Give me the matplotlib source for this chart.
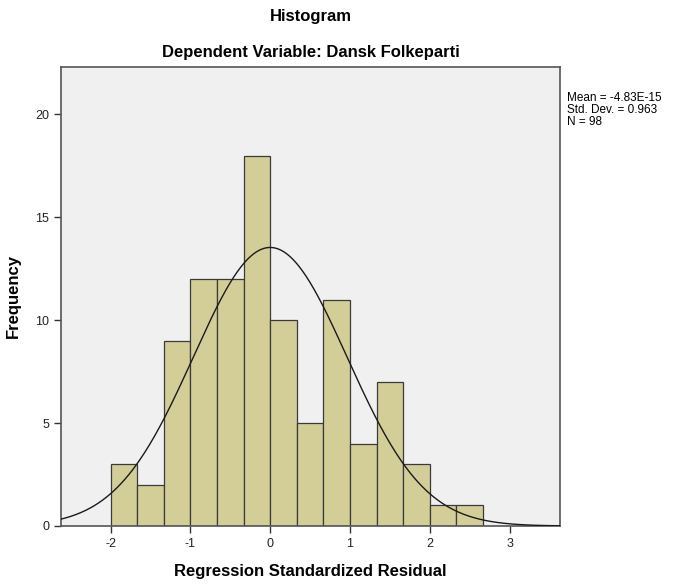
import numpy as np
import matplotlib.pyplot as plt

plt.rcParams['font.family'] = ['Liberation Sans', 'DejaVu Sans']

# histogram data
bin_edges = [-2.0, -1.6667, -1.3333, -1.0, -0.6667, -0.3333, 0.0, 0.3333,
             0.6667, 1.0, 1.3333, 1.6667, 2.0, 2.3333, 2.6667]
counts = [3, 2, 9, 12, 12, 18, 10, 5, 11, 4, 7, 3, 1, 1]
mean = -4.83e-15
sd = 0.963
n = 98
xticks = [-2, -1, 0, 1, 2, 3]
yticks = [0, 5, 10, 15, 20]

fig = plt.figure(figsize=(6.74, 5.87), dpi=100)
ax = fig.add_axes([61/674, 1 - 526/587, (560 - 61)/674, (526 - 67)/587])
ax.set_facecolor('#f0f0f0')

widths = np.diff(bin_edges)
ax.bar(bin_edges[:-1], counts, width=widths, align='edge',
       color='#d3ce98', edgecolor='#3a3a3a', linewidth=0.9, zorder=2)

# normal curve
bw = widths.mean()
xs = np.linspace(-2.62, 3.63, 400)
ys = n * bw / (sd * np.sqrt(2 * np.pi)) * np.exp(-0.5 * ((xs - mean) / sd) ** 2)
ax.plot(xs, ys, color='#1a1a1a', linewidth=1.0, zorder=3)

ax.set_xlim(-2.62, 3.63)
ax.set_ylim(0, 22.3)
ax.set_xticks(xticks)
ax.set_yticks(yticks)
ax.set_xticklabels([str(t) for t in xticks])
ax.tick_params(labelsize=9, length=5, width=1, color='#333333', labelcolor='#222222')
for s in ax.spines.values():
    s.set_color('#555555')
    s.set_linewidth(1.2)

ax.set_xlabel('Regression Standardized Residual', fontsize=12, fontweight='bold', labelpad=10)
ax.set_ylabel('Frequency', fontsize=12, fontweight='bold', labelpad=10)

fig.text(0.5 * (61 + 560) / 674, 1 - 17/587, 'Histogram', ha='center', va='center',
         fontsize=12, fontweight='bold')
fig.text(0.5 * (61 + 560) / 674, 1 - 52/587, 'Dependent Variable: Dansk Folkeparti',
         ha='center', va='center', fontsize=12, fontweight='bold')
fig.text(567/674, 1 - 92/587, 'Mean = -4.83E-15\nStd. Dev. = 0.963\nN = 98',
         ha='left', va='top', fontsize=8.5, linespacing=1.0)

fig.savefig('out.png', dpi=100)
